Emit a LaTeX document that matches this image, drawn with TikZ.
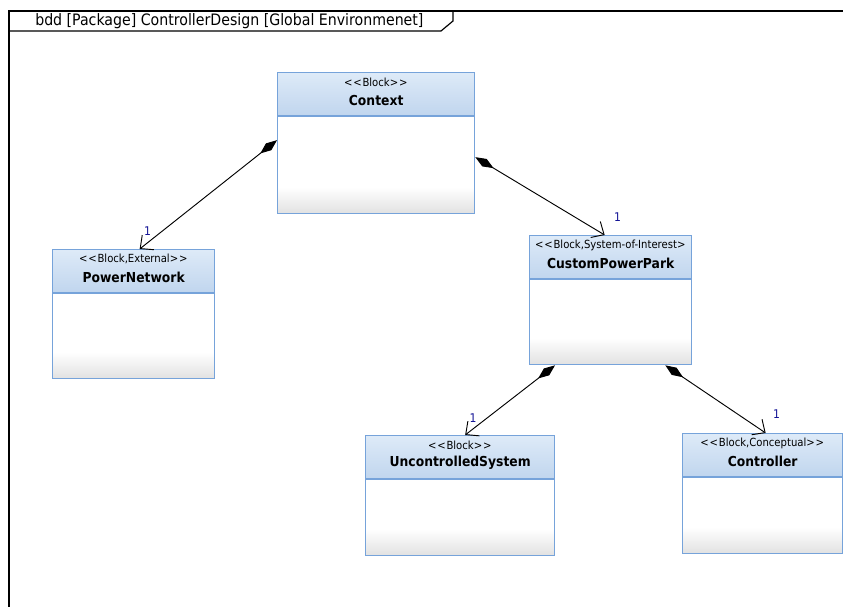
\documentclass[tikz,border=0pt]{standalone}
\usepackage{fontspec}
\setmainfont{DejaVu Sans Condensed}
\usepackage{tikz}
\usetikzlibrary{arrows.meta, positioning, calc}
\definecolor{bddblue}{RGB}{118,163,218}
\definecolor{bddhdtop}{RGB}{222,235,248}
\definecolor{bddhdbot}{RGB}{192,213,238}
\definecolor{bddgray}{RGB}{226,226,226}
\definecolor{bddnavy}{RGB}{20,20,150}

% block with stereotype compartment: name, left, top, width, height, stereotype, title
\newcommand{\sysblock}[7]{%
  \fill[white] (#2,#3) rectangle ++(#4,#5);
  \shade[top color=white, bottom color=bddgray] (#2,#3+#5-26) rectangle ++(#4,26);
  \shade[top color=bddhdtop, bottom color=bddhdbot] (#2,#3) rectangle ++(#4,44);
  \draw[bddblue, line width=0.9pt] (#2,#3+44) -- ++(#4,0);
  \node[blockframe, anchor=north west, minimum width=#4*0.75pt, minimum height=#5*0.75pt] (#1) at (#2,#3) {};
  \node[stereo] (#1-st) at ($(#1.north)+(0,10)$) {#6};
  \node[blocktitle] (#1-nm) at ($(#1.north)+(0,28)$) {#7};
}
\newcommand{\lt}{<\kern0.6pt}
\newcommand{\gt}{>\kern0.6pt}

\begin{document}
\begin{tikzpicture}[x=0.75pt, y=-0.75pt,
  blockframe/.style={draw=bddblue, line width=1pt, inner sep=0pt},
  stereo/.style={font=\fontsize{8.4}{9}\selectfont, inner sep=0pt},
  blocktitle/.style={font=\bfseries\fontsize{10.3}{12}\selectfont, inner sep=0pt},
  frameline/.style={line width=0.9pt, black},
  part/.style={line width=0.7pt, {Diamond[length=16pt,width=6.5pt]}-{Straight Barb[length=7.5pt,width=14pt]}},
  mult/.style={pos=1, text=bddnavy, font=\fontsize{9}{10}\selectfont, inner sep=0pt}]

\useasboundingbox (0,0) rectangle (843,607);

% diagram frame
\draw[frameline] (9,607) -- (9,11) -- (843,11);
\draw[frameline] (9,31) -- (441,31) -- (453,21) -- (453,11);
\node[anchor=west, font=\fontsize{11.8}{13}\selectfont, inner sep=0pt] (frametitle) at (35,21) {bdd [Package] ControllerDesign [Global Environmenet]};

% blocks
\sysblock{ctx}{277}{72}{197}{141}{\lt\lt Block\gt\gt}{Context}
\sysblock{pn}{52}{249}{162}{129}{\lt\lt Block,External\gt\gt}{PowerNetwork}
\sysblock{cpp}{529}{235}{162}{129}{\lt\lt Block,System-of-Interest\gt}{CustomPowerPark}
\sysblock{unc}{365}{435}{189}{120}{\lt\lt Block\gt\gt}{UncontrolledSystem}
\sysblock{ctrl}{682}{433}{160}{120}{\lt\lt Block,Conceptual\gt\gt}{Controller}

% part associations
\draw[part] ($(ctx.west)+(0,-3)$) -- ($(pn.north)+(6,0)$) node[mult, xshift=6pt, yshift=13.5pt] {1};
\draw[part] ($(ctx.east)+(0,14)$) -- ($(cpp.north)+(-6,0)$) node[mult, xshift=9.75pt, yshift=13.5pt] {1};
\draw[part] ($(cpp.south west)+(26,0)$) -- ($(unc.north)+(5,0)$) node[mult, xshift=6pt, yshift=12.75pt] {1};
\draw[part] ($(cpp.south east)+(-27,0)$) -- ($(ctrl.north)+(3,0)$) node[mult, xshift=8.25pt, yshift=14.25pt] {1};

\end{tikzpicture}
\end{document}
